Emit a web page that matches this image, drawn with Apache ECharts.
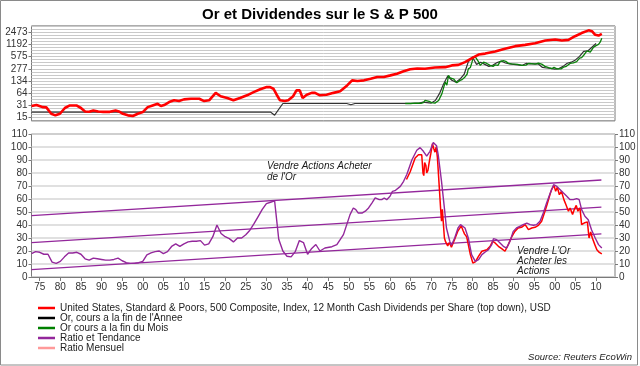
<!DOCTYPE html>
<html><head><meta charset="utf-8">
<script src="https://cdn.jsdelivr.net/npm/echarts@6/dist/echarts.min.js"></script>
<style>html,body{margin:0;padding:0;background:#fff}#c{width:640px;height:366px}</style>
</head><body><div id="c"></div>
<script>
// ---------- DATA ----------
const titleText = 'Or et Dividendes sur le S & P 500';
const topTickLabels = [15, 31, 64, 134, 277, 575, 1192, 2473];
const ratioTicks = [0,10,20,30,40,50,60,70,80,90,100,110];
const xTickYears = [1875,1880,1885,1890,1895,1900,1905,1910,1915,1920,1925,1930,1935,1940,1945,1950,1955,1960,1965,1970,1975,1980,1985,1990,1995,2000,2005,2010];
const xTickLabels = ['75','80','85','90','95','00','05','10','15','20','25','30','35','40','45','50','55','60','65','70','75','80','85','90','95','00','05','10'];

const nameSP = 'United States, Standard & Poors, 500 Composite, Index, 12 Month Cash Dividends per Share (top down), USD';
const nameGoldY = "Or, cours a la fin de l'Annee";
const nameGoldM = 'Or cours a la fin du Mois';
const nameRatio = 'Ratio et Tendance';
const nameRatioM = 'Ratio Mensuel';

const spSeries = [[1873,30],[1874.2,32],[1875.8,28.2],[1876.6,27.8],[1877.8,19],[1878.8,17.3],[1879.9,19],[1881.1,26.8],[1882.3,31.2],[1883.9,31.2],[1885,26.8],[1886,21.8],[1887,21.5],[1888,23.1],[1889.2,21.8],[1890.4,21.3],[1892,21.3],[1893.4,23.1],[1894.2,21.8],[1895.2,19],[1896.4,17.3],[1897.6,16.6],[1898.8,19],[1900,21],[1901.2,28.2],[1902.4,31.2],[1903.6,34.4],[1904.4,30.1],[1905.2,32],[1906.4,38.1],[1907.6,42.3],[1908.8,40.5],[1910,44.8],[1911.7,46.5],[1913.7,46.5],[1914.9,40.5],[1916.1,42.3],[1917.7,66],[1918.9,54],[1920.5,48.6],[1922,42.3],[1923.6,48.6],[1925.3,57],[1926.9,69],[1928.5,81.5],[1930.1,93],[1930.9,93],[1931.7,84.5],[1932.5,59],[1933.3,42.3],[1934.5,40.5],[1935.3,42.3],[1936.5,54],[1937.3,76.7],[1938.1,76.7],[1938.8,48.6],[1939.8,59],[1941,66],[1941.8,66],[1943,57],[1944.6,59],[1946.3,66],[1947.9,72.6],[1949.6,103],[1950.8,139],[1951.2,148],[1952.1,134],[1953.7,139],[1955.3,153],[1956.9,170],[1958.5,170],[1960.1,187],[1961.7,207],[1963.3,239],[1964.9,270],[1966.6,282],[1968.5,278],[1970.9,298],[1973.4,305],[1975,339],[1976.6,349],[1978.2,411],[1979.9,520],[1981.5,646],[1983.1,684],[1985.5,780],[1987.9,912],[1990.4,1067],[1992.8,1151],[1995.2,1269],[1997.7,1488],[2000.1,1580],[2001.7,1488],[2003.3,1550],[2004.9,1926],[2006.5,2323],[2008.2,2734],[2009,2600],[2009.8,2090],[2010.6,2000],[2011.4,2210]];

const goldYearSeries = [[1873,21],[1931,21],[1932,17.5],[1934,35],[1940,35],[1949.5,35],[1950.5,32.5],[1951.5,35],[1963,35],[1964,35],[1965,35],[1966,35.5],[1967,35.5],[1968,38],[1969,37],[1970,36],[1971,42],[1972,63],[1973,112],[1974,180],[1975,140],[1976,125],[1977,150],[1978,200],[1979,420],[1980,560],[1981,360],[1982,410],[1983,360],[1984,320],[1985,345],[1986,400],[1987,440],[1988,390],[1989,370],[1990,362],[1991,350],[1992,338],[1993,380],[1994,372],[1995,370],[1996,368],[1997,300],[1998,290],[1999,285],[2000,272],[2001,280],[2002,320],[2003,385],[2004,410],[2005,470],[2006,580],[2007,780],[2008,800],[2009,1000],[2010,1250]];

const goldMonthSeries = [[1963.7,35],[1965,35],[1966.1,35.8],[1967.5,35.5],[1968.1,37],[1968.5,42],[1968.9,42.3],[1969.5,40],[1970.1,37],[1970.9,35.8],[1971.8,42],[1972.6,63],[1973.4,125],[1973.8,105],[1974.2,187],[1974.6,160],[1975,170],[1975.5,150],[1976.2,120],[1977,139],[1977.5,145],[1978.2,170],[1978.7,200],[1979,276],[1979.5,300],[1979.9,411],[1980.2,560],[1980.4,615],[1980.7,560],[1981.1,506],[1981.5,420],[1981.9,339],[1982.3,330],[1982.7,411],[1983.1,420],[1983.5,380],[1984.3,339],[1985,320],[1985.5,349],[1986.2,340],[1986.7,424],[1987.5,448],[1988.1,430],[1988.8,380],[1989.5,370],[1990.4,365],[1991,360],[1992,339],[1993,345],[1993.6,380],[1994.4,375],[1995.2,365],[1996,385],[1996.8,365],[1997.6,320],[1998.5,295],[1999.3,280],[1999.8,300],[2000.5,275],[2000.9,270],[2001.5,275],[2002.1,305],[2002.8,320],[2003.7,380],[2004.5,395],[2005.3,424],[2006,520],[2006.5,540],[2007,620],[2007.8,800],[2008.2,900],[2008.6,750],[2008.9,800],[2009.4,1000],[2010,1100],[2010.6,1180],[2011,1350],[2011.4,1700]];

const ratioSeries = [[1873,18],[1874,19.5],[1875,19],[1876,17.5],[1877,17.5],[1878,11.5],[1879,10.5],[1880,12],[1881,15.5],[1882,18.5],[1883,18.5],[1884,19],[1885,17.5],[1886,14],[1887,13],[1888,14.5],[1889,14],[1890,13.5],[1891,13],[1892,13],[1893,13.5],[1894,14.5],[1895,12.5],[1896,11],[1897,10.5],[1898,10.5],[1899,11],[1900,12],[1901,17],[1902,18.5],[1903,19.5],[1904,20],[1905,18],[1906,19.5],[1907,23.5],[1908,25.5],[1909,23.5],[1910,25.5],[1911,27],[1912,27.5],[1913,27.5],[1914,28],[1915,24.5],[1916,25.5],[1917,31],[1918,40],[1919,33.5],[1920,31],[1921,29.5],[1922,27],[1923,30],[1924,30],[1925,32.5],[1926,36],[1927,41],[1928,46.5],[1929,52],[1930,56.5],[1931,57.5],[1932,58.5],[1933,29],[1934,20],[1935,16],[1936,15.5],[1937,19.5],[1938,28],[1939,26.5],[1940,17.5],[1941,22],[1942,25],[1943,20],[1944.2,22.3],[1945.9,23.3],[1947.1,24.9],[1947.9,28.7],[1948.7,32.6],[1949.5,40.3],[1950.3,48],[1951.1,53.1],[1951.7,51.8],[1952.3,49.2],[1953.2,49.2],[1954,50.6],[1954.8,53.1],[1955.6,56.9],[1956.4,60.8],[1956.8,62.1],[1957.4,59.5],[1958,59.5],[1958.6,60.8],[1959.2,59.5],[1960,62.1],[1960.6,65.9],[1961.2,66.4],[1962.5,69.7],[1963.3,73.6],[1964.1,79],[1965.3,90],[1966.5,97.5],[1967.3,99.5],[1968.1,96.7],[1968.9,93],[1969.7,96.7],[1970.5,103.5],[1970.9,104.5],[1971.3,101],[1971.7,94],[1972.5,73.6],[1973.2,53],[1973.7,37.7],[1974.5,27.5],[1974.9,24.4],[1975.7,30],[1976.5,37.7],[1977.1,40.3],[1978.2,37.7],[1979,30],[1979.8,17.2],[1980.7,12],[1981.5,13.3],[1982.3,17.2],[1983.1,19.2],[1983.9,21],[1984.7,24.9],[1985.1,29.5],[1985.9,28.7],[1986.7,26.2],[1987.5,23.6],[1988.3,22.3],[1989.1,27.4],[1989.9,35.1],[1990.7,37.7],[1991.5,39],[1992.3,40.3],[1993.2,41.5],[1994,40.3],[1994.8,39.8],[1995.6,40.3],[1996.4,42.9],[1997.2,49.2],[1998,56.9],[1998.9,64.6],[1999.7,71],[2000.5,69.7],[2001.3,67.2],[2002.1,64.6],[2002.9,62.1],[2003.7,59.5],[2004.5,59.5],[2005.3,60.3],[2005.9,59.5],[2006.5,51.8],[2007.3,46.7],[2008.1,44.1],[2008.9,36.4],[2009.8,30],[2010.6,24.9],[2011.4,22.3]];

const ratioMonthSeries = [[1964,75],[1964.9,81],[1966.1,91.5],[1966.9,94],[1967.7,94],[1968,80],[1968.2,78],[1968.4,88],[1968.7,86],[1968.9,80],[1969.2,82],[1969.5,88],[1969.9,95],[1970.3,102.5],[1970.6,99],[1970.9,96],[1971.2,100],[1971.5,92],[1972,67],[1972.3,51.5],[1972.5,43],[1972.7,52],[1973.2,30],[1973.5,27],[1974,24],[1974.4,26.5],[1974.9,23],[1975.7,29],[1976.5,35.5],[1977.3,39.3],[1977.7,36],[1978.1,33],[1978.6,31],[1979,25],[1979.5,17.2],[1980.1,10.8],[1980.7,11.6],[1981.5,16],[1982.3,19.8],[1982.7,18.5],[1983.5,21],[1984.3,23.6],[1984.9,27.4],[1985.5,26.2],[1986.3,23.6],[1987.1,21.8],[1987.9,19.8],[1988.7,24.9],[1989.6,31.3],[1990.3,35.1],[1991.1,37.7],[1991.9,38.2],[1992.8,40.3],[1993.6,36.4],[1994.4,37.7],[1995.2,38.2],[1996,39.7],[1996.8,42.9],[1997.6,50.6],[1998.1,55.6],[1998.8,63.3],[1999.2,67.2],[1999.8,70.5],[2000.2,65.9],[2000.6,69],[2001.1,63.3],[2001.6,65.9],[2002.2,59.5],[2002.7,55.6],[2003.3,50.6],[2003.7,53.1],[2004.3,48],[2004.7,51.8],[2005.2,55.1],[2005.6,50.6],[2006.1,53.1],[2006.5,40.3],[2007.1,41.5],[2007.5,40.3],[2007.9,42.4],[2008.3,30],[2008.7,34.6],[2009.1,30],[2009.7,24.9],[2010.2,21],[2010.8,18.9],[2011.4,17.7]];

const trendUpper = [[1873,47.2],[2011.3,74.6]];
const trendMiddle = [[1873,26.5],[2011.3,53.8]];
const trendLower = [[1873,5.6],[2011.3,33.2]];

const noteSell = ["Vendre Actions Acheter", "de l'Or"];
const noteBuy = ["Vendre L'Or", "Acheter les", "Actions"];
const sourceText = 'Source: Reuters EcoWin';

// ---------- CHART ----------
const FONT = '"Liberation Sans", Arial, sans-serif';
const PURPLE = '#93279b';
const chart = echarts.init(document.getElementById('c'), null, {renderer: 'canvas'});
const xMin = 1873, xMax = 2014.6;
const lineSeries = (name, data, color, width, xi, yi, z) => ({
  name, type: 'line', data, xAxisIndex: xi, yAxisIndex: yi, showSymbol: false, symbol: 'none',
  lineStyle: {color, width}, itemStyle: {color}, z: z || 2, animation: false
});

chart.setOption({
  animation: false,
  textStyle: {fontFamily: FONT},
  title: {text: titleText, left: 'center', top: 2, textStyle: {fontSize: 15, fontWeight: 'bold', color: '#000', fontFamily: FONT}},
  grid: [
    {left: 31.5, right: 25, top: 25.9, height: 94.9, show: true, borderColor: '#7a7a7a', borderWidth: 1, backgroundColor: '#fff'},
    {left: 31.5, right: 25, top: 134, height: 143, show: true, borderColor: '#7a7a7a', borderWidth: 1}
  ],
  xAxis: [
    {type: 'value', gridIndex: 0, min: xMin, max: xMax, show: false},
    {type: 'value', gridIndex: 1, min: xMin, max: xMax,
     axisLine: {show: true, lineStyle: {color: '#7a7a7a'}},
     axisTick: {show: true, customValues: xTickYears, length: 4, lineStyle: {color: '#7a7a7a'}},
     axisLabel: {customValues: xTickYears, formatter: v => xTickLabels[xTickYears.indexOf(Math.round(v))], fontSize: 10, color: '#333', margin: 5},
     splitLine: {show: false}}
  ],
  yAxis: [
    {type: 'log', gridIndex: 0, min: 12.5, max: 3561,
     axisLine: {show: false},
     axisTick: {show: true, customValues: topTickLabels, length: 3, lineStyle: {color: '#7a7a7a'}},
     axisLabel: {customValues: topTickLabels, formatter: v => String(topTickLabels.reduce((a, b) => Math.abs(b - v) < Math.abs(a - v) ? b : a)), fontSize: 10, color: '#333', margin: 4},
     splitLine: {show: false}, minorSplitLine: {show: false}},
    {type: 'value', gridIndex: 0, min: 0, max: 31, interval: 1, position: 'right',
     axisLine: {show: false}, axisTick: {show: false}, axisLabel: {show: false},
     splitLine: {show: true, lineStyle: {color: '#c9c9c9', width: 1}}},
    {type: 'value', gridIndex: 1, min: 0, max: 110, interval: 10,
     axisLine: {show: false},
     axisTick: {show: true, length: 3, lineStyle: {color: '#7a7a7a'}},
     axisLabel: {fontSize: 10, color: '#333', margin: 4},
     splitLine: {show: true, lineStyle: {color: '#d6d6d6', width: 1.5}}},
    {type: 'value', gridIndex: 1, min: 0, max: 110, interval: 10, position: 'right',
     axisLine: {show: false},
     axisTick: {show: true, length: 3, lineStyle: {color: '#7a7a7a'}},
     axisLabel: {fontSize: 10, color: '#333', margin: 4},
     splitLine: {show: false}}
  ],
  legend: {
    orient: 'vertical', left: 33, top: 298, itemGap: 0, itemWidth: 17, itemHeight: 2.5, icon: 'rect',
    textStyle: {fontSize: 10, color: '#222', lineHeight: 10, fontFamily: FONT},
    data: [
      {name: nameSP, itemStyle: {color: '#ff0000'}},
      {name: nameGoldY, itemStyle: {color: '#000000'}},
      {name: nameGoldM, itemStyle: {color: '#008000'}},
      {name: nameRatio, itemStyle: {color: PURPLE}},
      {name: nameRatioM, itemStyle: {color: '#ff9a9a'}}
    ],
    selectedMode: false
  },
  graphic: [
    {type: 'rect', shape: {x: 0.5, y: 0.5, width: 637, height: 364.5}, style: {fill: 'none', stroke: '#8a8a8a', lineWidth: 1}, silent: true, z: 100},
    {type: 'text', left: 267, top: 161, style: {text: noteSell.join('\n'), font: 'italic 10px ' + FONT, fill: '#1a1a1a', lineHeight: 11}, z: 50},
    {type: 'text', left: 517, top: 246, style: {text: noteBuy.join('\n'), font: 'italic 10px ' + FONT, fill: '#1a1a1a', lineHeight: 10}, z: 50},
    {type: 'text', right: 8, top: 352, style: {text: sourceText, font: 'italic 9.5px ' + FONT, fill: '#222'}, z: 50}
  ],
  series: [
    lineSeries(nameSP, spSeries, '#ff0000', 2.6, 0, 0, 4),
    lineSeries(nameGoldY, goldYearSeries, '#333333', 1.2, 0, 0, 2),
    lineSeries(nameGoldM, goldMonthSeries, '#0a820a', 1.3, 0, 0, 3),
    lineSeries(nameRatioM, ratioMonthSeries, '#ff0000', 1.5, 1, 2, 3),
    lineSeries(nameRatio, ratioSeries, PURPLE, 1.4, 1, 2, 4),
    lineSeries(nameRatio, trendUpper, PURPLE, 1.3, 1, 2, 2),
    lineSeries(nameRatio, trendMiddle, PURPLE, 1.3, 1, 2, 2),
    lineSeries(nameRatio, trendLower, PURPLE, 1.3, 1, 2, 2)
  ]
});
</script>
</body></html>
